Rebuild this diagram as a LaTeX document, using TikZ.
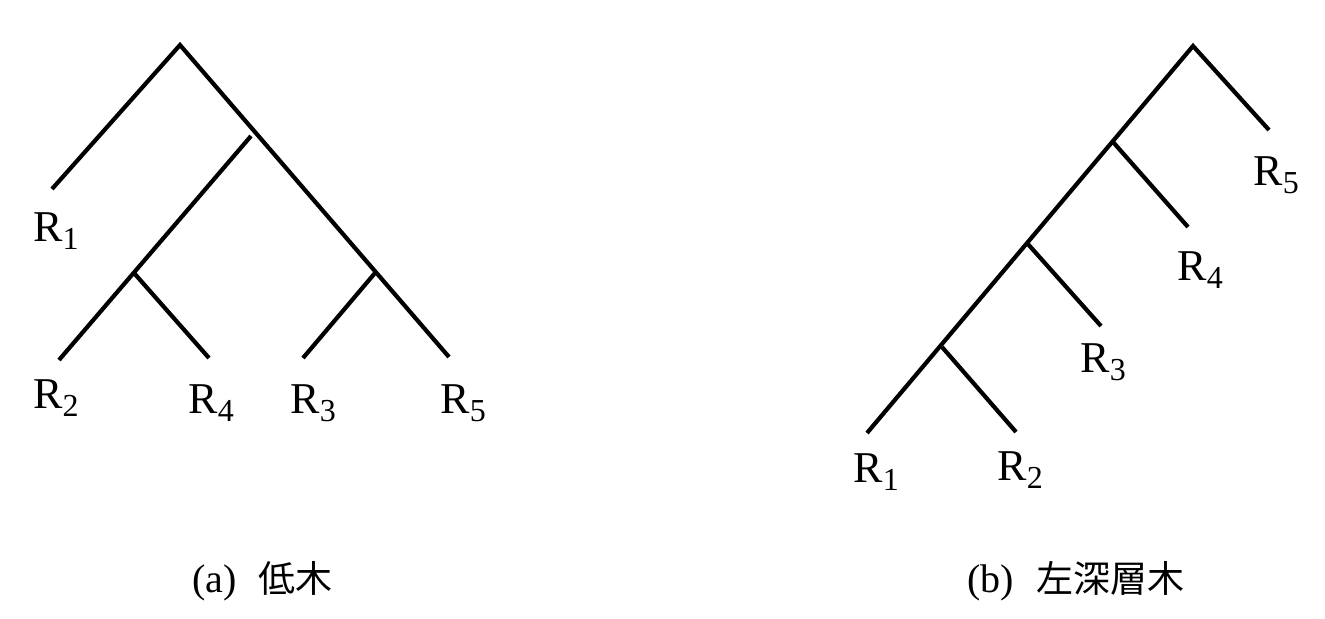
\documentclass[tikz,border=0pt]{standalone}
\usepackage{fontspec}
\setmainfont{Liberation Serif}
\newfontfamily\cjkfont{Noto Sans CJK JP}
\newcommand{\leafname}[1]{R\raisebox{-4pt}{\fontsize{16}{16}\selectfont #1}}
\newcommand{\captext}[1]{{\cjkfont\fontsize{18.5}{20}\selectfont #1}}
\begin{document}
\begin{tikzpicture}[x=0.5pt, y=-0.5pt,
    branch/.style={line width=2.1pt, line join=miter},
    leaf/.style={anchor=base west, inner sep=0pt, font=\fontsize{22}{26}\selectfont},
    caption/.style={anchor=base west, inner sep=0pt, font=\fontsize{20}{22}\selectfont}]
  \useasboundingbox (0,0) rectangle (1325,618);
  % (a) bushy tree
  \coordinate (a0) at (180,45);
  \coordinate (aL1) at (52,189);
  \coordinate (aT) at (251,136);
  \coordinate (aJl) at (134,273);
  \coordinate (aJr) at (375,273);
  \coordinate (aL2) at (59,360);
  \coordinate (aL4) at (209,358);
  \coordinate (aL3) at (303,358);
  \coordinate (aL5) at (449,357);
  \draw[branch] (aL1) -- (a0) -- (aL5);
  \draw[branch] (aT) -- (aL2);
  \draw[branch] (aJl) -- (aL4);
  \draw[branch] (aJr) -- (aL3);
  \node[leaf] (ra1) at (33,241) {\leafname{1}};
  \node[leaf] (ra2) at (33,408) {\leafname{2}};
  \node[leaf] (ra4) at (188,413) {\leafname{4}};
  \node[leaf] (ra3) at (290,413) {\leafname{3}};
  \node[leaf] (ra5) at (440,413) {\leafname{5}};
  \node[caption] (capa) at (192,592) {(a)\hspace{0.55em}\captext{低木}};
  % (b) left-deep tree
  \coordinate (b0) at (1193,46);
  \coordinate (bL5) at (1269,130);
  \coordinate (bJ4) at (1113,142);
  \coordinate (bL4) at (1188,227);
  \coordinate (bJ3) at (1027,243);
  \coordinate (bL3) at (1101,326);
  \coordinate (bJ2) at (942,347);
  \coordinate (bL2) at (1016,432);
  \coordinate (bL1) at (867,433);
  \draw[branch] (bL1) -- (b0) -- (bL5);
  \draw[branch] (bJ4) -- (bL4);
  \draw[branch] (bJ3) -- (bL3);
  \draw[branch] (bJ2) -- (bL2);
  \node[leaf] (rb5) at (1253,185) {\leafname{5}};
  \node[leaf] (rb4) at (1177,280) {\leafname{4}};
  \node[leaf] (rb3) at (1080,372) {\leafname{3}};
  \node[leaf] (rb2) at (997,480) {\leafname{2}};
  \node[leaf] (rb1) at (853,482) {\leafname{1}};
  \node[caption] (capb) at (967,592) {(b)\hspace{0.55em}\captext{左深層木}};
\end{tikzpicture}
\end{document}
